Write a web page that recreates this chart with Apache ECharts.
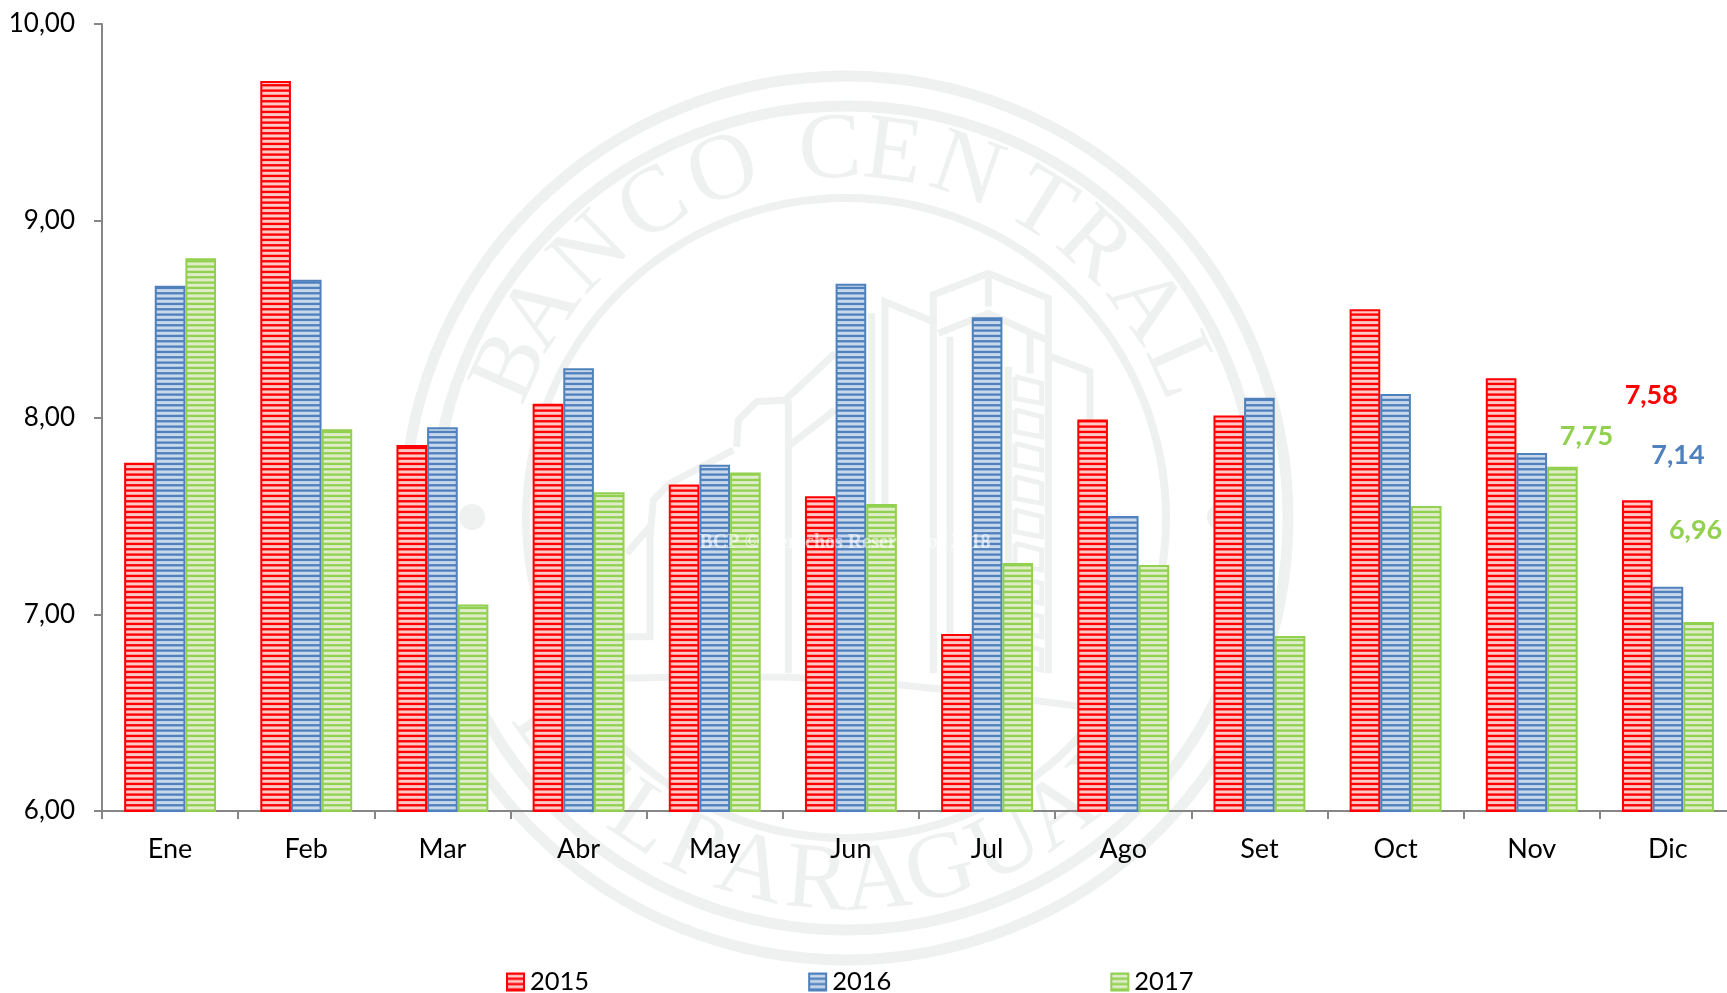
<!DOCTYPE html>
<html>
<head>
<meta charset="utf-8">
<style>html,body{margin:0;padding:0;background:#fff;overflow:hidden}#c{width:1745px;height:993px}</style>
<script src="https://cdn.jsdelivr.net/npm/echarts@6/dist/echarts.min.js"></script>
</head>
<body>
<div id="c"></div>
<script>
const months = ['Ene','Feb','Mar','Abr','May','Jun','Jul','Ago','Set','Oct','Nov','Dic'];
const values2015 = [7.77,9.71,7.86,8.07,7.66,7.60,6.90,7.99,8.01,8.55,8.20,7.58];
const values2016 = [8.67,8.70,7.95,8.25,7.76,8.68,8.51,7.50,8.10,8.12,7.82,7.14];
const values2017 = [8.81,7.94,7.05,7.62,7.72,7.56,7.26,7.25,6.89,7.55,7.75,6.96];
const yearNames = ['2015','2016','2017'];
const yearColors = ['#ff0000','#4f81bd','#92d050'];
const stripeColors = ['#ffc8c8','#c9d8ea','#dfedca'];
const font = 'Lato';
const sealColor = '#eef1f0';

function comma(v){ return v.toFixed(2).replace('.', ','); }

function stripes(base, light){
  const cv = document.createElement('canvas');
  cv.width = 4; cv.height = 16;
  const g = cv.getContext('2d');
  g.fillStyle = base; g.fillRect(0,0,4,16);
  g.fillStyle = light;
  for (let i = 0; i < 3; i++) g.fillRect(0, i*16/3 + 1.1, 4, 3);
  return cv;
}

// Seal watermark behind the chart
const cx = 846, cy = 518;
const seal = [];
function ring(r, w){
  seal.push({type:'circle', z:0, silent:true, shape:{cx:cx, cy:cy, r:r},
    style:{fill:'none', stroke:sealColor, lineWidth:w}});
}
ring(442, 11); ring(412, 11); ring(320, 8);
function letter(ch, deg, bottom, R){
  const a = deg*Math.PI/180;
  seal.push({type:'text', z:0, silent:true,
    x: cx + R*Math.sin(a),
    y: bottom ? cy + R*Math.cos(a) : cy - R*Math.cos(a),
    rotation: bottom ? a : -a,
    style:{text:ch, font:'94px "Liberation Serif"', fill:sealColor, align:'center', verticalAlign:'middle'}});
}
[['B',-65.8],['A',-55.9],['N',-44],['C',-31.6],['O',-19.5],['C',-2.5],['E',7.4],['N',19.2],['T',32],['R',42.4],['A',54.7],['L',65.6]]
  .forEach(p => letter(p[0], p[1], false, 366));
[['D',-54],['E',-44],['L',-34],['P',-24.6],['A',-15],['R',-4.6],['A',5],['G',15],['U',26],['A',36],['Y',47]]
  .forEach(p => letter(p[0], p[1], true, 366));
[[472,517],[1220,517]].forEach(p => seal.push({type:'circle', z:0, silent:true,
  shape:{cx:p[0], cy:p[1], r:13}, style:{fill:sealColor}}));
function line(pts, w){
  seal.push({type:'polyline', z:0, silent:true,
    shape:{points:pts.map(p => [600+p[0]/3, 270+p[1]/3])},
    style:{fill:'none', stroke:sealColor, lineWidth:w||7}});
}
line([[1000,1210],[1000,75],[1165,10],[1345,85],[1345,1210]]);
line([[1165,10],[1165,110]]);
line([[1015,190],[1165,130],[1340,210]]);
line([[1050,200],[1050,1210]]);
line([[1290,190],[1290,310]]);
line([[855,1210],[855,95],[1000,155]]);
line([[815,130],[815,1210]]);
line([[1340,255],[1470,305],[1470,450]]);
line([[150,800],[160,690],[210,640],[400,540]]);
line([[410,530],[415,450],[470,395],[555,390],[705,250]]);
line([[565,390],[565,1210]]);
line([[570,525],[705,420]]);
line([[80,850],[150,770],[150,1100],[60,1100]]);
line([[1225,290],[1225,1200]]);
for (let i = 0; i < 9; i++) line([[1245,320+i*100],[1325,340+i*100],[1325,400+i*100],[1245,385+i*100],[1245,320+i*100]], 5);
line([[60,1225],[300,1220],[570,1222],[850,1240],[1100,1265],[1450,1310]], 7);

const allValues = [values2015, values2016, values2017];
// Which bars carry a moved label: series index, month index, label shift
const notes = [[0,11,[14,-86]],[1,11,[10,-113]],[2,11,[-3,-73]],[2,10,[24,-12]]];

const series = allValues.map((vals, s) => ({
  name: yearNames[s],
  type: 'bar',
  barGap: 0,
  barCategoryGap: '32.5%',
  z: 2,
  itemStyle: {
    color: {image: stripes(yearColors[s], stripeColors[s]), repeat:'repeat'},
    borderColor: yearColors[s],
    borderWidth: 2
  },
  data: vals.map((v, m) => {
    const n = notes.find(x => x[0] === s && x[1] === m);
    if (!n) return v;
    return {value: v, label: {show:true, position:'top', offset:n[2], color:yearColors[s],
      fontFamily:font, fontWeight:'bold', fontSize:27, formatter:p => comma(p.value)}};
  })
}));

seal.push({type:'text', z:50, silent:true, x:845, y:543,
  style:{text:'BCP © Derechos Reservados 2018', font:'bold 20px "Liberation Serif"',
    fill:'rgba(255,255,255,0.6)', align:'center', verticalAlign:'middle'}});

const chart = echarts.init(document.getElementById('c'), null, {renderer:'canvas'});
chart.setOption({
  animation: false,
  backgroundColor: '#ffffff',
  grid: {left:102, top:24, width:1634, height:787, containLabel:false},
  legend: {
    left: 506, top: 969, itemWidth:17, itemHeight:17, itemGap:219, padding:0,
    icon:'rect',
    textStyle:{fontFamily:font, fontSize:25.5, color:'#000', padding:[2,0,0,1]},
    data: yearNames
  },
  xAxis: {
    type:'category', data:months,
    axisLine:{lineStyle:{color:'#868686', width:2}},
    axisTick:{show:true, length:8, lineStyle:{color:'#868686', width:2}},
    axisLabel:{fontFamily:font, fontSize:27, color:'#000', margin:25, interval:0},
    splitLine:{show:false}
  },
  yAxis: {
    type:'value', min:6, max:10, interval:1,
    axisLine:{show:true, lineStyle:{color:'#868686', width:2}},
    axisTick:{show:true, length:8, lineStyle:{color:'#868686', width:2}},
    axisLabel:{fontFamily:font, fontSize:26, color:'#000', margin:27, formatter:comma},
    splitLine:{show:false}
  },
  graphic: {elements: seal},
  series: series
});
</script>
</body>
</html>
